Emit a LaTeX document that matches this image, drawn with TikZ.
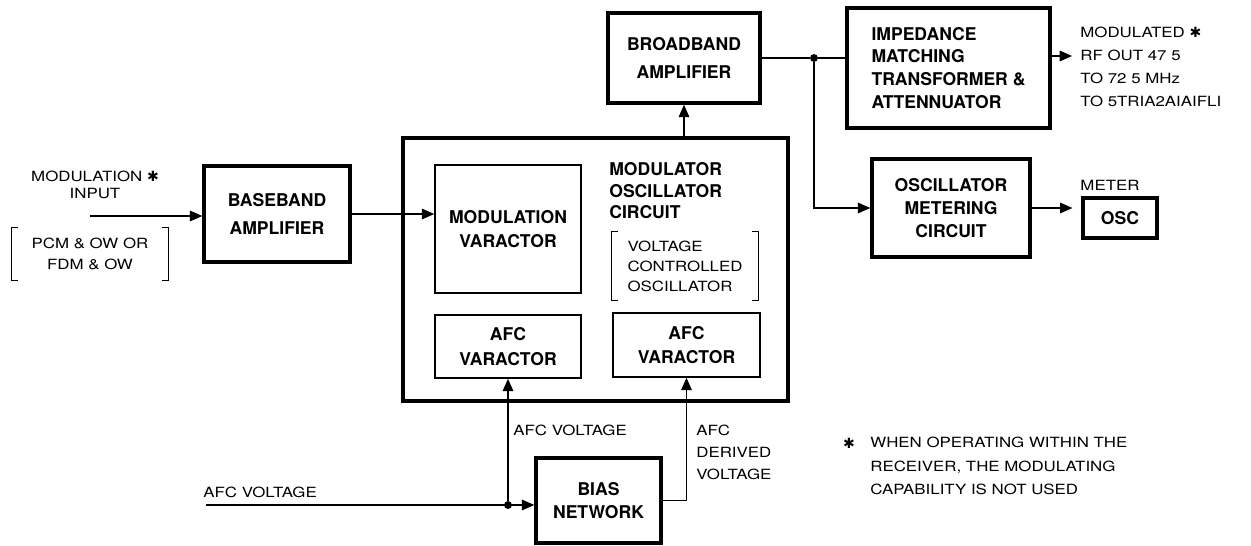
\documentclass[tikz,border=0pt]{standalone}
\usepackage{fontspec}
\usetikzlibrary{arrows.meta}
\setmainfont{TeX Gyre Heros}
\newfontfamily\boxfont{TeX Gyre Heros}
\newfontfamily\notefont[FakeStretch=1.2]{TeX Gyre Heros}
\newfontfamily\starfont{DejaVu Sans}
\newcommand{\starmark}{{\starfont\bfseries ✱}}
\tikzset{
  bigbox/.style={draw, line width=2pt, align=center, inner sep=2pt,
    font=\boxfont\bfseries\fontsize{10}{12}\selectfont},
  smallbox/.style={draw, line width=0.9pt, align=center, inner sep=2pt,
    font=\boxfont\bfseries\fontsize{10}{12}\selectfont},
  boxlabel/.style={align=left, inner sep=0pt,
    font=\boxfont\bfseries\fontsize{10}{12.2}\selectfont},
  note/.style={align=left, inner sep=0pt,
    font=\notefont\fontsize{8}{13}\selectfont},
  wire/.style={line width=0.7pt},
  sig/.style={line width=0.7pt, -{Triangle[length=7pt,width=6pt]}},
  joint/.style={circle, fill, inner sep=0pt, minimum size=4.5pt}
}
\begin{document}
\begin{tikzpicture}[x=0.02cm,y=-0.02cm]
\useasboundingbox (0,0) rectangle (1251,545);
% blocks
\node[bigbox, minimum width=2.92cm, minimum height=1.92cm] (base) at (277,214) {BASEBAND\\[4pt]AMPLIFIER};
\node[bigbox, minimum width=7.7cm, minimum height=5.26cm] (main) at (595.5,269.5) {};
\node[smallbox, minimum width=2.92cm, minimum height=2.56cm] (modvar) at (508,229) {MODULATION\\[2pt]VARACTOR};
\node[smallbox, minimum width=2.92cm, minimum height=1.26cm] (afcl) at (508,346.5) {AFC\\[2pt]VARACTOR};
\node[smallbox, minimum width=2.94cm, minimum height=1.28cm] (afcr) at (686.5,345) {AFC\\[2pt]VARACTOR};
\node[boxlabel, anchor=west] (mocl) at (609,191) {MODULATOR\\OSCILLATOR\\CIRCUIT};
\node[note, align=left, minimum width=2.92cm, minimum height=1.36cm,
  font=\notefont\fontsize{8}{11.4}\selectfont] (vco) at (685,266) {VOLTAGE\\CONTROLLED\\OSCILLATOR};
\draw[wire] ([xshift=3.5pt]vco.north west) -| (vco.south west) -- ++(3.5pt,0);
\draw[wire] ([xshift=-3.5pt]vco.north east) -| (vco.south east) -- ++(-3.5pt,0);
\node[bigbox, minimum width=3.04cm, minimum height=1.8cm] (broad) at (684,58) {BROADBAND\\[4pt]AMPLIFIER};
\node[bigbox, minimum width=4.06cm, minimum height=2.4cm, align=left] (imped) at (948.5,68) {IMPEDANCE\\[1pt]MATCHING\\[1pt]TRANSFORMER \&\\[1pt]ATTENNUATOR};
\node[bigbox, minimum width=3.16cm, minimum height=1.96cm] (oscmet) at (951,208) {OSCILLATOR\\[1pt]METERING\\[1pt]CIRCUIT};
\node[bigbox, minimum width=1.48cm, minimum height=0.8cm] (osc) at (1120,218) {OSC};
\node[bigbox, minimum width=2.5cm, minimum height=1.7cm] (bias) at (598.5,500.5) {BIAS\\[1pt]NETWORK};
% labels
\node[note, align=center, font=\notefont\fontsize{8}{9.7}\selectfont] (modlbl) at (95,185) {MODULATION \starmark\\INPUT};
\node[note, align=center, minimum width=3.12cm, minimum height=1.04cm,
  font=\notefont\fontsize{8}{12}\selectfont] (pcm) at (90,254) {PCM \& OW OR\\FDM \& OW};
\draw[wire] ([xshift=3.5pt]pcm.north west) -| (pcm.south west) -- ++(3.5pt,0);
\draw[wire] ([xshift=-3.5pt]pcm.north east) -| (pcm.south east) -- ++(-3.5pt,0);
\node[note, anchor=west] (rflbl) at (1080,67) {MODULATED \starmark\\RF OUT 47 5\\TO 72 5 MHz\\TO 5TRIA2AIAIFLI};
\node[note] (meterlbl) at (1110,185) {METER};
\node[note, anchor=west] (afclbl) at (513,430) {AFC VOLTAGE};
\node[note, anchor=west, font=\notefont\fontsize{8}{12.5}\selectfont] (derlbl) at (696,452) {AFC\\DERIVED\\VOLTAGE};
\node[note, anchor=west] (afcinlbl) at (203,492) {AFC VOLTAGE};
\node[note] (fnstar) at (849,443) {\starmark};
\node[note, anchor=west, font=\notefont\fontsize{8}{13.3}\selectfont] (fn) at (870,466) {WHEN OPERATING WITHIN THE\\RECEIVER, THE MODULATING\\CAPABILITY IS NOT USED};
% connections
\coordinate (modin) at (90,216);
\draw[sig] (modin) -- (modin -| base.west);
\draw[sig] (base.east) -- (base.east -| modvar.west);
\draw[sig] (broad.south |- main.north) -- (broad.south);
\node[joint] (jn) at (814,58) {};
\draw[wire] (broad.east) -- (jn) -- (jn -| imped.west);
\draw[sig] (jn) |- (oscmet.west);
\coordinate (rfout) at (1072,56);
\draw[sig] (rfout -| imped.east) -- (rfout);
\draw[sig, shorten >=5pt] (oscmet.east) -- (oscmet.east -| osc.west);
\coordinate (afcin) at (206,505);
\draw[sig] (afcin) -- (afcin -| bias.west);
\node[joint] (ja) at (afcl.south |- afcin) {};
\draw[sig] (ja) -- (afcl.south);
\draw[sig] (bias.east) -| (afcr.south);
\end{tikzpicture}
\end{document}
